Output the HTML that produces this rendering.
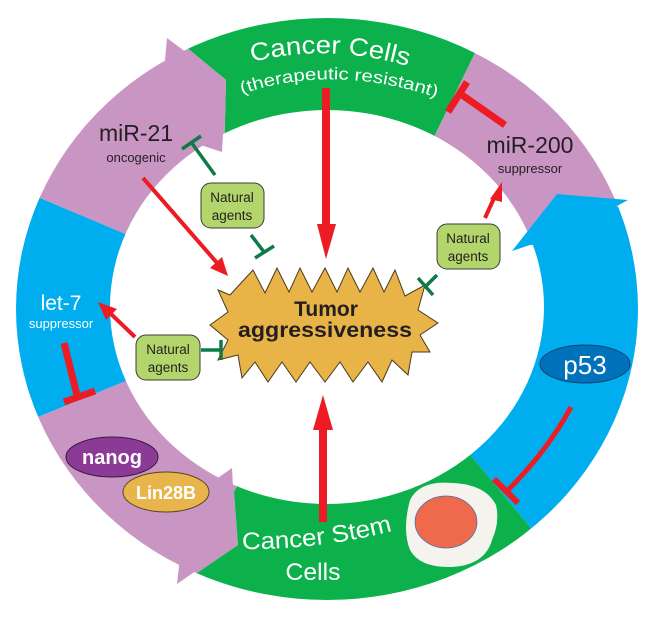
<!DOCTYPE html>
<html><head><meta charset="utf-8"><style>
html,body{margin:0;padding:0;background:#fff;width:653px;height:617px;overflow:hidden}
svg{display:block}
text{font-family:"Liberation Sans",sans-serif}
</style></head><body>
<svg width="653" height="617" viewBox="0 0 653 617" xmlns="http://www.w3.org/2000/svg">
<defs>
<clipPath id="ring"><path clip-rule="evenodd" d="M16,309 a311,291 0 1,0 622,0 a311,291 0 1,0 -622,0 Z M110,307 a217,197 0 1,0 434,0 a217,197 0 1,0 -434,0 Z"/></clipPath>
<path id="arc1" d="M252,62 Q330,42 414,68"/>
<path id="arc2" d="M242,94 Q335,62 444,100"/>
<path id="arc3" d="M242,549 Q320,550 396,530"/>
</defs>
<g clip-path="url(#ring)">
<polygon fill="#0db14b" points="186,47 226,80 224,160 326,309 435,135 475,53 490,0 170,0"/>
<polygon fill="#c996c4" points="0,0 186,0 186,47 226,80 224,160 326,309 123,233 40,198 0,181"/>
<polygon fill="#00aeef" points="0,181 40,198 123,233 326,309 121,383 38,417 0,433"/>
<polygon fill="#c996c4" points="0,433 38,417 121,383 326,309 234,492 238,545 197,573 180,617 0,617"/>
<polygon fill="#0db14b" points="238,545 234,492 326,309 473,458 531,528 560,617 180,617 197,573"/>
<polygon fill="#00aeef" points="531,528 473,458 326,309 530,245 615,207 653,200 653,617 560,617"/>
<polygon fill="#c996c4" points="475,53 435,135 326,309 530,245 615,207 653,200 653,0 490,0"/>
</g>
<!-- arrowheads -->
<polygon fill="#c996c4" points="167,38 226,82 222,152 185,140 165,60"/>
<polygon fill="#c996c4" points="232,468 236,543 177,584 182,540 212,482"/>
<polygon fill="#00aeef" points="512,251 557,194 628,200 615,207 610,240 530,245"/>

<!-- cell -->
<path d="M410,500 Q420,480 452,483 Q485,484 496,505 Q500,522 492,540 Q485,565 452,567 Q420,568 410,550 Q402,530 410,500 Z" fill="#f5f3ee"/>
<ellipse cx="446" cy="522" rx="31" ry="26" fill="#ef6a4d" stroke="#3a6fb0" stroke-width="0.7"/>

<!-- ring texts -->
<text fill="#fff" font-size="25"><textPath href="#arc1" textLength="158" lengthAdjust="spacingAndGlyphs">Cancer Cells</textPath></text>
<text fill="#fff" font-size="17"><textPath href="#arc2" textLength="198" lengthAdjust="spacingAndGlyphs">(therapeutic resistant)</textPath></text>
<text fill="#fff" font-size="24"><textPath href="#arc3" textLength="152" lengthAdjust="spacingAndGlyphs">Cancer Stem</textPath></text>
<text x="313" y="580" fill="#fff" font-size="24" text-anchor="middle" textLength="55" lengthAdjust="spacingAndGlyphs">Cells</text>

<text x="136" y="141" fill="#231f20" font-size="23" text-anchor="middle">miR-21</text>
<text x="136" y="162" fill="#231f20" font-size="13" text-anchor="middle">oncogenic</text>
<text x="530" y="153" fill="#231f20" font-size="23" text-anchor="middle">miR-200</text>
<text x="530" y="173" fill="#231f20" font-size="13" text-anchor="middle">suppressor</text>
<text x="61" y="310" fill="#fff" font-size="21" text-anchor="middle">let-7</text>
<text x="61" y="328" fill="#fff" font-size="13" text-anchor="middle">suppressor</text>

<!-- ellipses -->
<ellipse cx="585" cy="364" rx="45" ry="19" fill="#0072bc" stroke="#1c3f6e" stroke-width="1"/>
<text x="585" y="374" fill="#fff" font-size="26" text-anchor="middle">p53</text>
<ellipse cx="112" cy="457" rx="46" ry="20" fill="#8b3a96" stroke="#3a1a40" stroke-width="1"/>
<text x="112" y="464" fill="#fff" font-size="20" font-weight="bold" text-anchor="middle">nanog</text>
<ellipse cx="166" cy="492" rx="43" ry="20" fill="#e8b44c" stroke="#5a4520" stroke-width="1"/>
<text x="166" y="499" fill="#fff" font-size="18" font-weight="bold" text-anchor="middle">Lin28B</text>

<!-- star -->
<polygon fill="#e8b447" stroke="#4a3a20" stroke-width="1" points="230,295 253,270 265,293 277,268 289,292 300,268 312,292 325,268 337,292 348,268 360,292 373,268 384,292 395,270 405,296 425,285 418,310 438,323 420,335 430,352 412,352 408,375 392,360 382,382 368,362 353,382 340,362 325,382 310,362 296,382 282,362 268,382 255,362 242,378 238,355 218,360 228,340 210,325 228,312 218,290"/>
<text x="326" y="316" fill="#231f20" font-size="21" font-weight="bold" text-anchor="middle">Tumor</text>
<text x="325" y="337" fill="#231f20" font-size="21" font-weight="bold" text-anchor="middle" textLength="174" lengthAdjust="spacingAndGlyphs">aggressiveness</text>

<!-- red arrows -->
<g fill="#ed1c24" stroke="none">
<rect x="322" y="88" width="8" height="140"/>
<polygon points="317,224 336,224 326,259"/>
<rect x="319" y="425" width="8" height="97"/>
<polygon points="313,430 333,430 323,395"/>
</g>
<g stroke="#ed1c24" stroke-width="4" fill="none">
<line x1="143" y1="178" x2="218" y2="264"/>
<line x1="485" y1="218" x2="495" y2="196"/>
<line x1="135" y1="337" x2="110" y2="313"/>
</g>
<g fill="#ed1c24">
<polygon points="228,276 210,268 222,257"/>
<polygon points="502,182 490,199 502,202"/>
<polygon points="98,302 106,320 117,309"/>
</g>
<g stroke="#ed1c24" stroke-width="7" fill="none">
<line x1="505" y1="125" x2="462" y2="95"/>
<line x1="448" y1="112" x2="467" y2="82"/>
<line x1="64" y1="343" x2="77" y2="395"/>
<line x1="64" y1="402" x2="95" y2="391"/>
<path d="M571,407 Q548,450 508,490" stroke-width="5"/>
<line x1="494" y1="479" x2="518" y2="503" stroke-width="6"/>
</g>
<!-- green inhibitors -->
<g stroke="#0f7a47" stroke-width="3.5" fill="none">
<line x1="215" y1="175" x2="191" y2="142"/>
<line x1="182" y1="149" x2="201" y2="136"/>
<line x1="251" y1="235" x2="264" y2="252"/>
<line x1="255" y1="258" x2="274" y2="246"/>
<line x1="437" y1="275" x2="425" y2="287"/>
<line x1="418" y1="278" x2="433" y2="295"/>
<line x1="201" y1="350" x2="220" y2="350"/>
<line x1="221" y1="340" x2="221" y2="360"/>
</g>
<!-- natural agents boxes -->
<g fill="#b3d66c" stroke="#3a3a3a" stroke-width="1">
<rect x="201" y="183" width="63" height="45" rx="10"/>
<rect x="437" y="224" width="63" height="45" rx="10"/>
<rect x="136" y="335" width="64" height="45" rx="10"/>
</g>
<g fill="#231f20" font-size="13.5" text-anchor="middle">
<text x="232" y="202">Natural</text><text x="232" y="220">agents</text>
<text x="468" y="243">Natural</text><text x="468" y="261">agents</text>
<text x="168" y="354">Natural</text><text x="168" y="372">agents</text>
</g>
</svg>
</body></html>
